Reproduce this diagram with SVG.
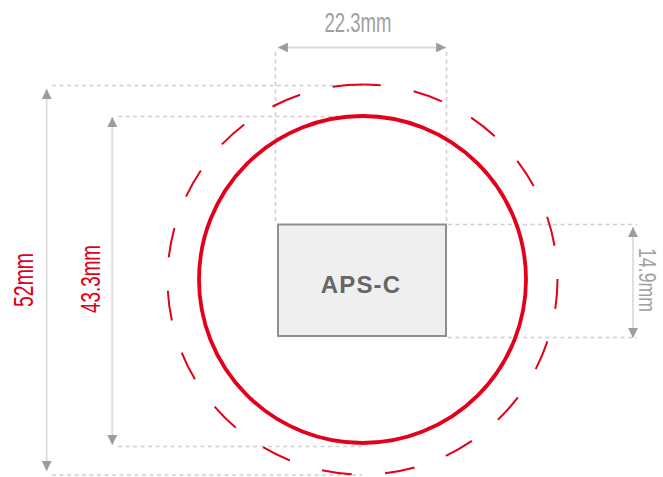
<svg xmlns="http://www.w3.org/2000/svg" width="663" height="477" viewBox="0 0 663 477">
<style>
.dot{fill:none;stroke:#cfcfcf;stroke-width:1.6;stroke-dasharray:4 3.5}
.dim{fill:none;stroke:#dcdcdc;stroke-width:1.8;marker-start:url(#ah);marker-end:url(#ah)}
.lbl{font-family:"Liberation Sans",Arial,sans-serif;font-size:27px;text-anchor:middle}
.gray{fill:#a0a0a0}
.red{fill:#e2001a}
</style>
<defs>
<marker id="ah" viewBox="0 0 10 10" refX="10" refY="5" markerWidth="5.5" markerHeight="5.5" orient="auto-start-reverse" markerUnits="strokeWidth">
<path d="M0,0 L10,5 L0,10 Z" fill="#9c9c9c"/>
</marker>
</defs>
<rect width="663" height="477" fill="#ffffff"/>
<g id="connectors">
<line class="dot" x1="52" y1="85.5" x2="362" y2="85.5"/>
<line class="dot" x1="52" y1="475" x2="362" y2="475"/>
<line class="dot" x1="118" y1="116.5" x2="362" y2="116.5"/>
<line class="dot" x1="118" y1="446.5" x2="362" y2="446.5"/>
<line class="dot" x1="275.5" y1="52" x2="275.5" y2="223"/>
<line class="dot" x1="446.5" y1="52" x2="446.5" y2="223"/>
<line class="dot" x1="448" y1="224.5" x2="637" y2="224.5"/>
<line class="dot" x1="448" y1="337.5" x2="637" y2="337.5"/>
<line class="dim" x1="278" y1="47.5" x2="446" y2="47.5"/>
<line class="dim" x1="46.7" y1="89" x2="46.7" y2="471"/>
<line class="dim" x1="112.3" y1="117" x2="112.3" y2="445"/>
<line class="dim" x1="633" y1="227" x2="633" y2="338"/>
<text class="lbl gray" x="358" y="32" textLength="67" lengthAdjust="spacingAndGlyphs">22.3mm</text>
<text class="lbl red" transform="translate(33,280) rotate(-90)" textLength="54" lengthAdjust="spacingAndGlyphs">52mm</text>
<text class="lbl red" transform="translate(100,279) rotate(-90)" textLength="68" lengthAdjust="spacingAndGlyphs">43.3mm</text>
<text class="lbl gray" transform="translate(639,280) rotate(90)" font-size="24" style="font-size:24px" textLength="64" lengthAdjust="spacingAndGlyphs">14.9mm</text>
</g>
<g id="circle-outer">
<path d="M362.5,84.5 A195,195 0 1 0 362.5,474.5 A195,195 0 1 0 362.5,84.5" fill="none" stroke="#e2001a" stroke-width="2" stroke-dasharray="30 33.5"/>
</g>
<g id="circle-inner">
<circle cx="362.5" cy="279.5" r="163.5" fill="none" stroke="#e2001a" stroke-width="3.8"/>
</g>
<g id="aps-c">
<rect x="278" y="224.5" width="168" height="111.5" fill="#efefef" stroke="#8f8f8f" stroke-width="2"/>
<text x="361" y="293" font-family="'Liberation Sans',Arial,sans-serif" font-size="24" font-weight="bold" fill="#666666" text-anchor="middle" letter-spacing="1.2">APS-C</text>
</g>
</svg>
